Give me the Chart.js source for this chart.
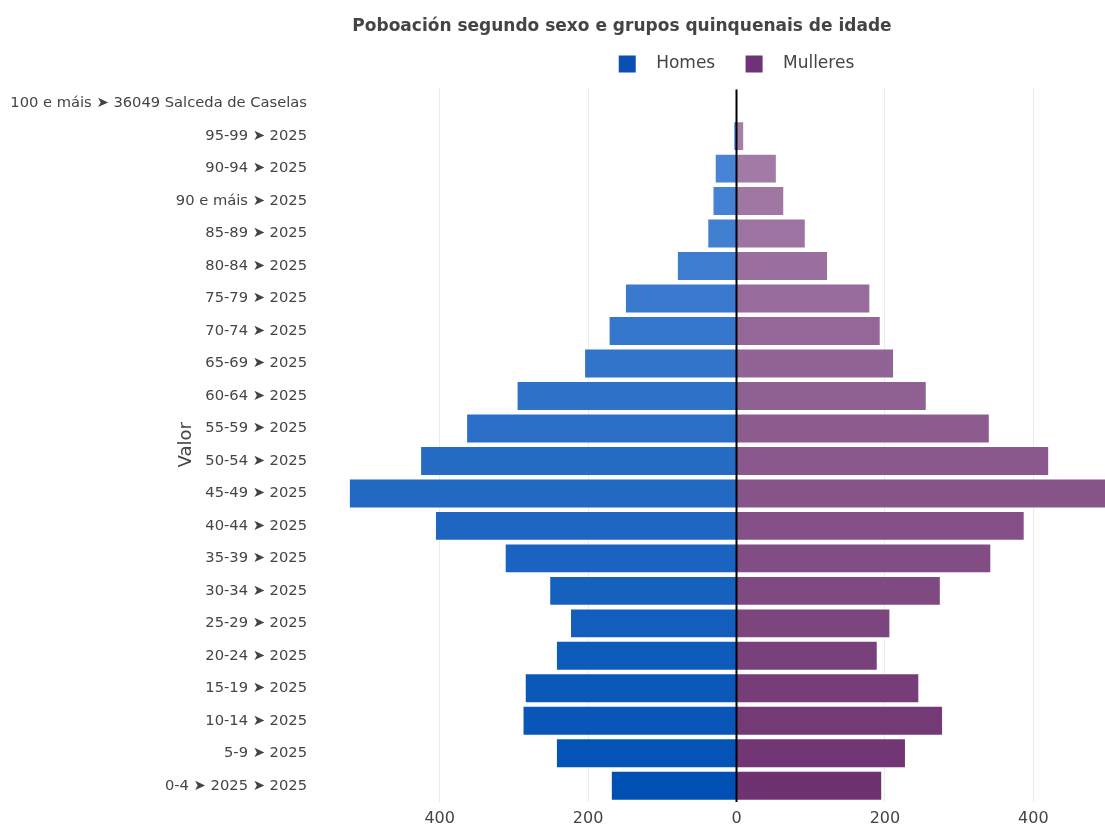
<!DOCTYPE html>
<html>
<head>
<meta charset="utf-8">
<script src="https://cdn.jsdelivr.net/npm/chart.js@4"></script>
<style>
  body { margin: 0; background: #fff; overflow: hidden; }
  #wrap { width: 1244px; height: 824px; }
</style>
</head>
<body>
<div id="wrap"><canvas id="myChart" width="1244" height="824"></canvas></div>
<script>
// grupos de idade (de arriba abaixo)
const categories = [
  "100 e máis ➤ 36049 Salceda de Caselas",
  "95-99 ➤ 2025",
  "90-94 ➤ 2025",
  "90 e máis ➤ 2025",
  "85-89 ➤ 2025",
  "80-84 ➤ 2025",
  "75-79 ➤ 2025",
  "70-74 ➤ 2025",
  "65-69 ➤ 2025",
  "60-64 ➤ 2025",
  "55-59 ➤ 2025",
  "50-54 ➤ 2025",
  "45-49 ➤ 2025",
  "40-44 ➤ 2025",
  "35-39 ➤ 2025",
  "30-34 ➤ 2025",
  "25-29 ➤ 2025",
  "20-24 ➤ 2025",
  "15-19 ➤ 2025",
  "10-14 ➤ 2025",
  "5-9 ➤ 2025",
  "0-4 ➤ 2025 ➤ 2025",
];
const homes = [0, 3, 28, 31, 38, 79, 149, 171, 204, 295, 363, 425, 521, 405, 311, 251, 223, 242, 284, 287, 242, 168];
const mulleres = [0, 9, 53, 63, 92, 122, 179, 193, 211, 255, 340, 420, 510, 387, 342, 274, 206, 189, 245, 277, 227, 195];
const xTicks = [-400, -200, 0, 200, 400];

// cor mais clara arriba, mais escura abaixo
function shade(from, to, n) {
  let out = [];
  for (let i = 0; i < n; i++) {
    let t = i / (n - 1);
    let c = from.map((v, k) => Math.round(v + (to[k] - v) * t));
    out.push(`rgb(${c[0]},${c[1]},${c[2]})`);
  }
  return out;
}
const homesColors = shade([80, 138, 216], [0, 80, 180], categories.length);
const mulleresColors = shade([168, 130, 172], [110, 50, 112], categories.length);

const textColor = "#444";
const font = "'DejaVu Sans', Verdana, sans-serif";

// lenda, liña do cero por riba das barras e titulo "Valor"
const extras = {
  id: "extras",
  afterLayout(chart) {
    // titulo centrado no lenzo completo
    let tb = chart.titleBlock;
    let tdx = chart.width / 2 - (tb.left + tb.right) / 2;
    tb.left += tdx;
    tb.right += tdx;
    // lenda centrada sobre a area do grafico e un pouco mais arriba
    let lg = chart.legend;
    let dx = (chart.chartArea.left + chart.chartArea.right) / 2 - (lg.left + lg.right) / 2;
    lg.left += dx;
    lg.right += dx;
    lg.top -= 5;
    lg.bottom -= 5;
  },
  afterDatasetsDraw(chart) {
    const c = chart.ctx;
    const x = chart.scales.x.getPixelForValue(0);
    c.save();
    c.strokeStyle = "#000";
    c.lineWidth = 2;
    c.beginPath();
    c.moveTo(x, chart.chartArea.top + 2);
    c.lineTo(x, chart.chartArea.bottom);
    c.stroke();
    c.restore();
  },
  afterDraw(chart) {
    const c = chart.ctx;
    const a = chart.chartArea;
    c.save();
    c.translate(a.left - 129, (a.top + a.bottom) / 2);
    c.rotate(-Math.PI / 2);
    c.fillStyle = textColor;
    c.font = "18px " + font;
    c.textAlign = "center";
    c.textBaseline = "middle";
    c.fillText("Valor", 0, 0);
    c.restore();
  },
};

const ctx = document.getElementById("myChart");
const myChart = new Chart(ctx, {
  type: "bar",
  data: {
    labels: categories,
    datasets: [
      {
        label: "Homes",
        data: homes.map((v) => -v),
        backgroundColor: homesColors,
        barPercentage: 0.86,
        categoryPercentage: 1,
      },
      {
        label: "Mulleres",
        data: mulleres,
        backgroundColor: mulleresColors,
        barPercentage: 0.86,
        categoryPercentage: 1,
      },
    ],
  },
  options: {
    indexAxis: "y",
    responsive: false,
    animation: false,
    layout: {
      padding: { top: 0, left: 0, right: 86, bottom: 0 },
    },
    plugins: {
      title: {
        display: true,
        text: "Poboación segundo sexo e grupos quinquenais de idade",
        color: textColor,
        font: { family: font, size: 17, weight: "bold" },
        padding: { top: 16, bottom: 14 },
      },
      legend: {
        position: "top",
        labels: {
          color: textColor,
          font: { family: font, size: 17 },
          boxWidth: 17,
          boxHeight: 17,
          padding: 10,
          generateLabels: function (chart) {
            let items = Chart.defaults.plugins.legend.labels.generateLabels(chart);
            items.forEach(function (it, i) {
              it.fillStyle = i === 0 ? "#0a50b4" : "#6e3276";
              it.strokeStyle = it.fillStyle;
              it.lineWidth = 0;
              it.text = "\u2002\u2009" + it.text + (i === 0 ? "\u2003\u2009" : "");
            });
            return items;
          },
        },
      },
      tooltip: {
        callbacks: {
          label: (item) => item.dataset.label + ": " + Math.abs(item.raw),
        },
      },
    },
    scales: {
      x: {
        stacked: true,
        min: -568,
        max: 568,
        afterBuildTicks: (scale) => {
          scale.ticks = xTicks.map((v) => ({ value: v }));
        },
        afterFit: function (scale) {
          scale.height = 22;
        },
        ticks: {
          color: textColor,
          font: { family: font, size: 16 },
          padding: 7,
          callback: (v) => Math.abs(v),
        },
        grid: {
          color: "#ebebeb",
          drawTicks: false,
          tickLength: 0,
        },
        border: { display: false },
      },
      y: {
        stacked: true,
        afterFit: function (scale) {
          scale.width = 315;
        },
        ticks: {
          color: textColor,
          font: { family: font, size: 14.7 },
          padding: 8,
          autoSkip: false,
        },
        grid: { display: false, drawTicks: false, tickLength: 0 },
        border: { display: false },
      },
    },
  },
  plugins: [extras],
});
</script>
</body>
</html>
